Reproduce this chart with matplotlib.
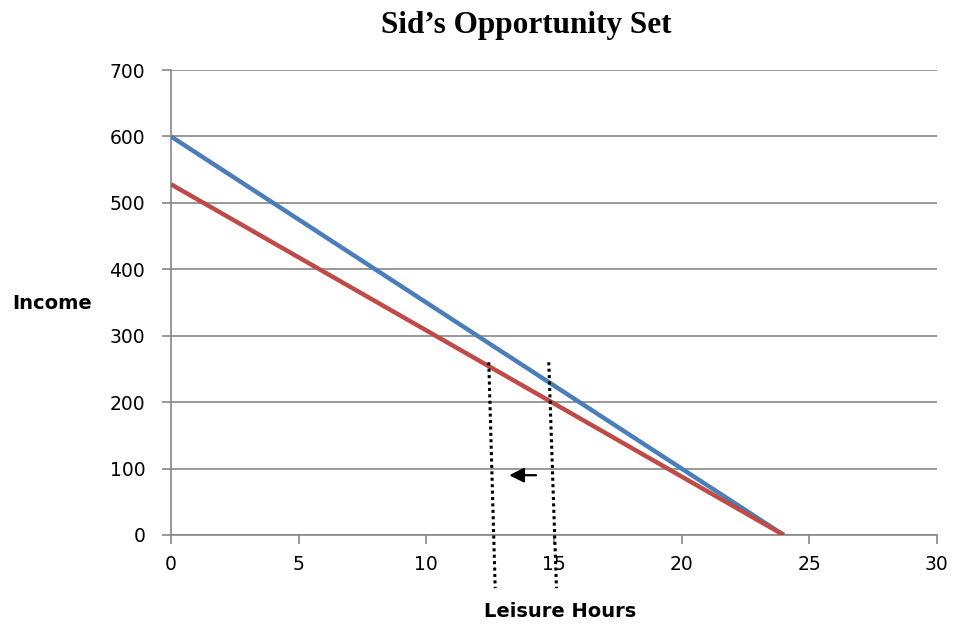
#!/usr/bin/env python3
"""Sid's opportunity set: income vs leisure hours."""

import matplotlib
matplotlib.use("Agg")
import matplotlib.pyplot as plt

# budget lines
hours = [0, 24]
income_before = [600, 0]
income_after = [528, 0]

# dotted markers (slightly slanted, like the hand-drawn original)
marker_x_top = [12.45, 14.8]
marker_x_bottom = [12.7, 15.1]
marker_y = [260, -80]

# arrow: from -> to
arrow_from = (14.3, 90)
arrow_to = (13.25, 90)

x_ticks = [0, 5, 10, 15, 20, 25, 30]
y_ticks = [0, 100, 200, 300, 400, 500, 600, 700]

fig = plt.figure(figsize=(9.55, 6.25), dpi=100)
ax = fig.add_axes([0.179, 0.144, 0.802, 0.744])

ax.plot(hours, income_before, color="#4A7EBB", linewidth=3.2, solid_capstyle="butt", zorder=3)
ax.plot(hours, income_after, color="#BE4B48", linewidth=3.2, solid_capstyle="butt", zorder=3)

for xt, xb in zip(marker_x_top, marker_x_bottom):
    ax.plot([xt, xb], marker_y, color="black", linewidth=2.2,
            linestyle=(0, (1, 1.1)), clip_on=False, zorder=4)

ax.annotate("", xy=arrow_to, xytext=arrow_from,
            arrowprops=dict(arrowstyle="-|>", color="black", lw=1.6,
                            mutation_scale=22, shrinkA=0, shrinkB=0))

ax.set_xlim(0, 30)
ax.set_ylim(0, 700)
ax.set_xticks(x_ticks)
ax.set_yticks(y_ticks)
ax.grid(axis="y", color="#888888", linewidth=1.2)
ax.set_axisbelow(True)

for side in ["top", "right"]:
    ax.spines[side].set_visible(False)
for side in ["left", "bottom"]:
    ax.spines[side].set_color("#888888")
    ax.spines[side].set_linewidth(1.2)

ax.tick_params(direction="out", length=6.5, width=1.2, color="#888888",
               labelsize=13.5)
ax.tick_params(axis="y", pad=12)
ax.tick_params(axis="x", pad=8)

fig.text(0.055, 1 - 309 / 625, "Income", fontsize=14, fontweight="bold",
         ha="center", va="baseline")
fig.text(0.586, 1 - 617 / 625, "Leisure Hours", fontsize=14, fontweight="bold",
         ha="center", va="baseline")
fig.text(0.551, 1 - 33 / 625, "Sid\u2019s Opportunity Set", fontsize=22.5, fontweight="bold",
         family="Liberation Serif", ha="center", va="baseline")

fig.savefig("out.png", dpi=100)
